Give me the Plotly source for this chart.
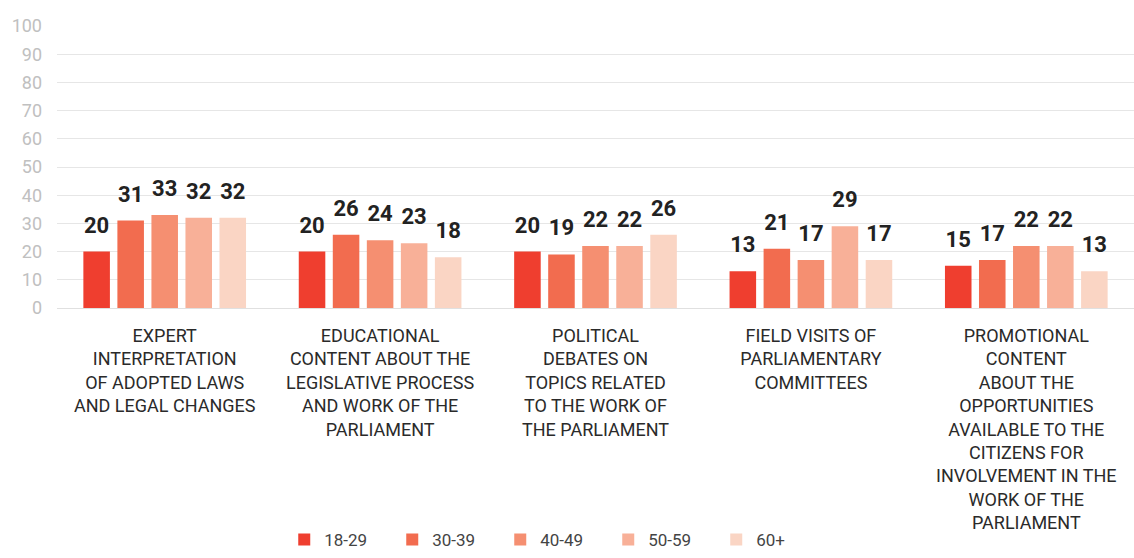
import plotly.graph_objects as go

categories = [
    "EXPERT<br>INTERPRETATION<br>OF ADOPTED LAWS<br>AND LEGAL CHANGES",
    "EDUCATIONAL<br>CONTENT ABOUT THE<br>LEGISLATIVE PROCESS<br>AND WORK OF THE<br>PARLIAMENT",
    "POLITICAL<br>DEBATES ON<br>TOPICS RELATED<br>TO THE WORK OF<br>THE PARLIAMENT",
    "FIELD VISITS OF<br>PARLIAMENTARY<br>COMMITTEES",
    "PROMOTIONAL<br>CONTENT<br>ABOUT THE<br>OPPORTUNITIES<br>AVAILABLE TO THE<br>CITIZENS FOR<br>INVOLVEMENT IN THE<br>WORK OF THE<br>PARLIAMENT",
]
age_groups = ["18-29", "30-39", "40-49", "50-59", "60+"]
values_18_29 = [20, 20, 20, 13, 15]
values_30_39 = [31, 26, 19, 21, 17]
values_40_49 = [33, 24, 22, 17, 22]
values_50_59 = [32, 23, 22, 29, 22]
values_60_plus = [32, 18, 26, 17, 13]
y_ticks = [0, 10, 20, 30, 40, 50, 60, 70, 80, 90, 100]

series = [values_18_29, values_30_39, values_40_49, values_50_59, values_60_plus]
colors = ["#EF3E2F", "#F26C4F", "#F58F71", "#F8B098", "#FAD5C4"]

fig = go.Figure()
for name, vals, col in zip(age_groups, series, colors):
    fig.add_trace(go.Bar(
        x=categories, y=vals, name=name, marker_color=col,
        marker_line_width=0, hoverinfo="skip",
    ))
for name, vals in zip(age_groups, series):
    fig.add_trace(go.Scatter(
        x=categories, y=vals, mode="markers+text", text=[str(v) for v in vals],
        textposition="top center",
        textfont=dict(family="Roboto", size=22, color="#222222", weight="bold"),
        marker=dict(size=20, color="rgba(0,0,0,0)"),
        showlegend=False, hoverinfo="skip", cliponaxis=False,
    ))

fig.update_layout(
    width=1134, height=558,
    margin=dict(l=57, r=0, t=26, b=240),
    paper_bgcolor="white", plot_bgcolor="white",
    barmode="group", bargap=0.21, bargroupgap=0.22,
    scattermode="group", scattergap=0.21,
    font=dict(family="Roboto", color="#333333"),
    showlegend=True,
    legend=dict(
        orientation="h", x=0.211, xanchor="left", y=-0.825, yanchor="middle",
        font=dict(family="Roboto", size=17, color="#444444"),
        entrywidth=63, entrywidthmode="pixels", itemclick=False,
    ),
)
fig.update_xaxes(
    type="category", showgrid=False, ticks="", showline=False,
    tickfont=dict(family="Roboto", size=18, color="#2a2a2a"),
    tickangle=0, automargin=False, ticklabelstandoff=15,
)
fig.update_yaxes(
    range=[0, 100], tickvals=y_ticks, showgrid=True, gridcolor="#E6E6E6",
    gridwidth=1, zeroline=True, zerolinecolor="#E0E0E0", zerolinewidth=1,
    tickfont=dict(family="Roboto", size=18, color="#C0C0C0"),
    ticks="", ticklabelstandoff=14, automargin=False,
)
fig.write_html(
    "out.html",
    config={"displayModeBar": False},
    post_script="document.body.style.margin='0';document.body.style.overflow='hidden';",
)
